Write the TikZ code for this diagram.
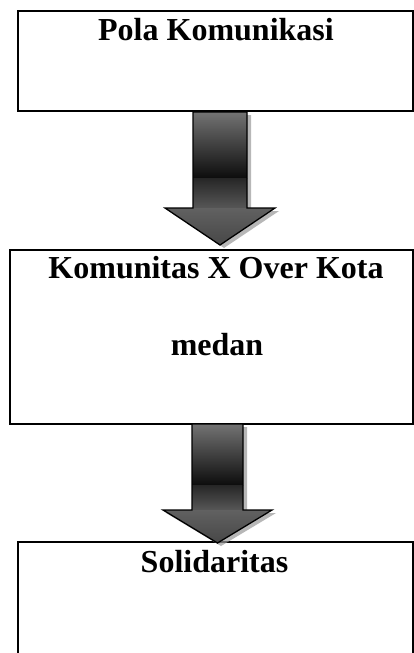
\documentclass[tikz,border=0pt]{standalone}
\usepackage{fontspec}
\setmainfont{Liberation Serif}
\begin{document}
\begin{tikzpicture}[x=1pt,y=-1pt,
  box/.style={draw=black,line width=2pt,rectangle,inner sep=0pt},
  lbl/.style={anchor=base,inner sep=0pt,font=\fontsize{32}{36}\selectfont\bfseries},
  arrowline/.style={draw=black,line width=1.3pt,line join=miter},
  shadowfill/.style={fill=black!40,draw=none,opacity=0.7}]
\useasboundingbox (0,0) rectangle (414,653);
\clip (0,0) rectangle (414,653);
\fill[white] (0,0) rectangle (414,653);
% boxes
\node[box,minimum width=395pt,minimum height=100pt] (b1) at (215.5,61) {};
\node[box,minimum width=403pt,minimum height=174pt] (b2) at (211.5,337) {};
\node[box,minimum width=395pt,minimum height=160pt] (b3) at (215.5,622) {};
% texts
\node[lbl] (t1) at (216,40) {Pola Komunikasi};
\node[lbl] (t2) at (216,278) {Komunitas X Over Kota};
\node[lbl] (t3) at (217,355) {medan};
\node[lbl] (t4) at (214.5,572) {Solidaritas};
% arrow 1
\fill[shadowfill] (197,115) -- (251,115) -- (251,211) -- (279,211) -- (224,248) -- (169,211) -- (197,211) -- cycle;
\shade[top color=black!55,bottom color=black!95] (193,112) rectangle (247,178);
\shade[top color=black!85,bottom color=black!66] (193,178) rectangle (247,208);
\shade[top color=black!62,bottom color=black!72] (165,208) -- (275,208) -- (220,245) -- cycle;
\draw[arrowline] (193,112) -- (247,112) -- (247,208) -- (275,208) -- (220,245) -- (165,208) -- (193,208) -- cycle;
% arrow 2
\fill[shadowfill] (196,427) -- (247,427) -- (247,513) -- (276,513) -- (221,546) -- (166,513) -- (196,513) -- cycle;
\shade[top color=black!55,bottom color=black!95] (192,424) rectangle (243,485);
\shade[top color=black!85,bottom color=black!66] (192,485) rectangle (243,510);
\shade[top color=black!62,bottom color=black!72] (163,510) -- (272,510) -- (217.5,543) -- cycle;
\draw[arrowline] (192,424) -- (243,424) -- (243,510) -- (272,510) -- (217.5,543) -- (163,510) -- (192,510) -- cycle;
\end{tikzpicture}
\end{document}
